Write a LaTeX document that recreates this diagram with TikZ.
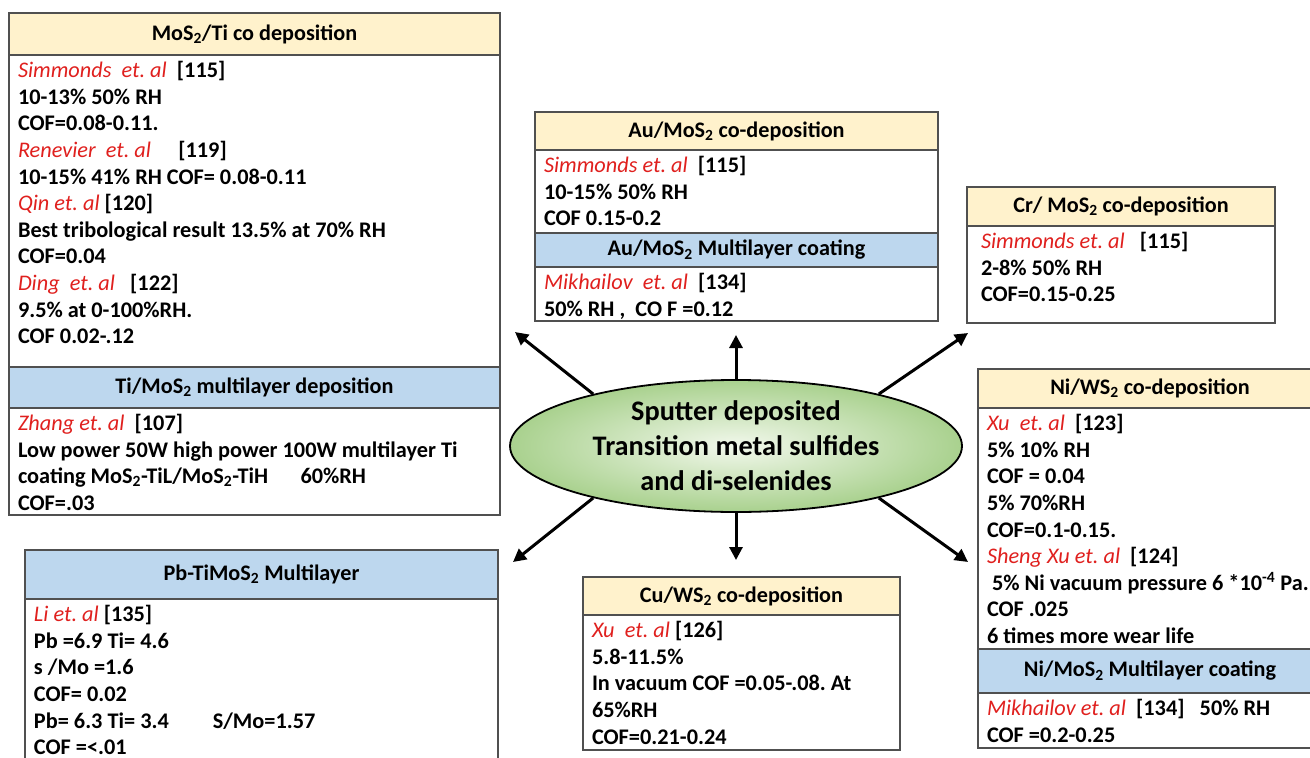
\documentclass[tikz,border=0pt]{standalone}
\usepackage{fontspec}
\setmainfont{Carlito}
\usetikzlibrary{positioning, shapes.geometric, arrows.meta}
\frenchspacing

\definecolor{hdryellow}{HTML}{FFF2CC}
\definecolor{hdrblue}{HTML}{BDD7EE}
\definecolor{authred}{HTML}{E0201E}
\definecolor{ellgreen}{HTML}{A9D18E}
\definecolor{ellwhite}{HTML}{F2F8EC}
\definecolor{boxline}{HTML}{505050}

% author names, red italic
\newcommand{\auth}[1]{\textcolor{authred}{\mdseries\itshape #1}}
% body text of fixed width x height (in px)
\newcommand{\cell}[3]{\parbox[t][\dimexpr#2pt-8pt\relax][t]{\dimexpr#1pt-18pt\relax}{\raggedright\strut#3}}

\tikzset{
  hdr/.style={draw=boxline, line width=1.5pt, outer sep=0pt, inner sep=0pt,
    font=\fontsize{22.2}{26}\selectfont\bfseries},
  bodybox/.style={draw=boxline, line width=1.5pt, fill=white, outer sep=0pt,
    inner xsep=9pt, inner ysep=4pt, font=\fontsize{22.3}{26.6}\selectfont\bfseries},
  arr/.style={line width=3pt, -{Triangle[length=13pt, width=13pt]}}
}

\begin{document}
\begin{tikzpicture}[x=1pt, y=-1pt]

\useasboundingbox (0,0) rectangle (1310,758);
\fill[white] (0,0) rectangle (1310,758);
\clip (0,0) rectangle (1310,758);

% MoS2/Ti
\node[hdr, fill=hdryellow, minimum width=491, minimum height=42, anchor=north west] (motiHead) at (9,13) {MoS\textsubscript{2}/Ti co deposition};
\node[bodybox, below=0pt of motiHead] (motiBody) {\cell{491}{312}{%
\auth{Simmonds\ \ et. al}\ \ [115]\\
10-13\% 50\% RH\\
COF=0.08-0.11.\\
\auth{Renevier\ \ et. al}\quad\ [119]\\
10-15\% 41\% RH COF= 0.08-0.11\\
\auth{Qin et. al} [120]\\
Best tribological result 13.5\% at 70\% RH\\
COF=0.04\\
\auth{Ding\ \ et. al}\ \ \ [122]\\
9.5\% at 0-100\%RH.\\
COF 0.02-.12}};
\node[hdr, fill=hdrblue, minimum width=491, minimum height=41, below=0pt of motiBody] (timlHead) {Ti/MoS\textsubscript{2} multilayer deposition};
\node[bodybox, below=0pt of timlHead] (timlBody) {\cell{491}{107}{%
\auth{Zhang et. al}\ \ [107]\\
Low power 50W high power 100W multilayer Ti\\
coating MoS\textsubscript{2}-TiL/MoS\textsubscript{2}-TiH\quad\ \ 60\%RH\\
COF=.03}};

% Pb-TiMoS2
\node[hdr, fill=hdrblue, minimum width=473, minimum height=49, anchor=north west] (pbtiHead) at (25,550) {Pb-TiMoS\textsubscript{2} Multilayer};
\node[bodybox, below=0pt of pbtiHead] (pbtiBody) {\cell{473}{190}{%
\auth{Li et. al} [135]\\
Pb =6.9 Ti= 4.6\\
s /Mo =1.6\\
COF= 0.02\\
Pb= 6.3 Ti= 3.4\hspace{44pt}S/Mo=1.57\\
COF =<.01}};

% Au/MoS2
\node[hdr, fill=hdryellow, minimum width=403, minimum height=38, anchor=north west] (aumoHead) at (535,112) {Au/MoS\textsubscript{2} co-deposition};
\node[bodybox, below=0pt of aumoHead] (aumoBody) {\cell{403}{83}{%
\auth{Simmonds et. al}\ \ [115]\\
10-15\% 50\% RH\\
COF 0.15-0.2}};
\node[hdr, fill=hdrblue, minimum width=403, minimum height=34, below=0pt of aumoBody] (aumlHead) {Au/MoS\textsubscript{2} Multilayer coating};
\node[bodybox, below=0pt of aumlHead] (aumlBody) {\cell{403}{54}{%
\auth{Mikhailov\ \ et. al}\ \ [134]\\
50\% RH ,\ \ CO F =0.12}};

% Cr/MoS2
\node[hdr, fill=hdryellow, minimum width=308, minimum height=39, anchor=north west] (crmoHead) at (967,187) {Cr/ MoS\textsubscript{2} co-deposition};
\node[bodybox, below=0pt of crmoHead] (crmoBody) {\cell{308}{97}{%
\hspace*{5pt}\auth{Simmonds et. al}\ \ \ [115]\\
\hspace*{5pt}2-8\% 50\% RH\\
\hspace*{5pt}COF=0.15-0.25}};

% Ni/WS2
\node[hdr, fill=hdryellow, minimum width=344, minimum height=39, anchor=north west] (niwsHead) at (978,369) {Ni/WS\textsubscript{2} co-deposition};
\node[bodybox, below=0pt of niwsHead] (niwsBody) {\cell{344}{241}{%
\auth{Xu\ \ et. al}\ \ [123]\\
5\% 10\% RH\\
COF = 0.04\\
5\% 70\%RH\\
COF=0.1-0.15.\\
\auth{Sheng Xu et. al}\ \ [124]\\
\hspace*{5pt}5\% Ni vacuum pressure 6 *10\textsuperscript{-4} Pa.\\
COF .025\\
6 times more wear life}};
\node[hdr, fill=hdrblue, minimum width=344, minimum height=44, below=0pt of niwsBody] (nimlHead) {Ni/MoS\textsubscript{2} Multilayer coating};
\node[bodybox, below=0pt of nimlHead] (nimlBody) {\cell{344}{55}{%
\auth{Mikhailov et. al}\ \ [134]\ \ \ 50\% RH\\
COF =0.2-0.25}};

% Cu/WS2
\node[hdr, fill=hdryellow, minimum width=317, minimum height=38, anchor=north west] (cuwsHead) at (583,577) {Cu/WS\textsubscript{2} co-deposition};
\node[bodybox, below=0pt of cuwsHead] (cuwsBody) {\cell{317}{135}{%
\auth{Xu\ \ et. al} [126]\\
5.8-11.5\%\\
In vacuum COF =0.05-.08. At\\
65\%RH\\
COF=0.21-0.24}};

% centre
\node[ellipse, draw, line width=1.8pt, inner color=ellwhite, outer color=ellgreen,
  minimum width=452, minimum height=132, inner sep=0pt, align=center,
  font=\fontsize{28.3}{35}\selectfont\bfseries] (tmd) at (736,446)
  {Sputter deposited\\Transition metal sulfides\\and di-selenides};

\coordinate (toMoti) at (515,332);
\coordinate (toAu)   at (736,335);
\coordinate (toCr)   at (968,333);
\coordinate (toPb)   at (513,562);
\coordinate (toCu)   at (736,560);
\coordinate (toNi)   at (968,562);

\path[arr]
  (tmd.160) edge (toMoti)
  (tmd.north) edge (toAu)
  (tmd.20) edge (toCr)
  (tmd.200) edge (toPb)
  (tmd.south) edge (toCu)
  (tmd.340) edge (toNi);

\end{tikzpicture}
\end{document}
